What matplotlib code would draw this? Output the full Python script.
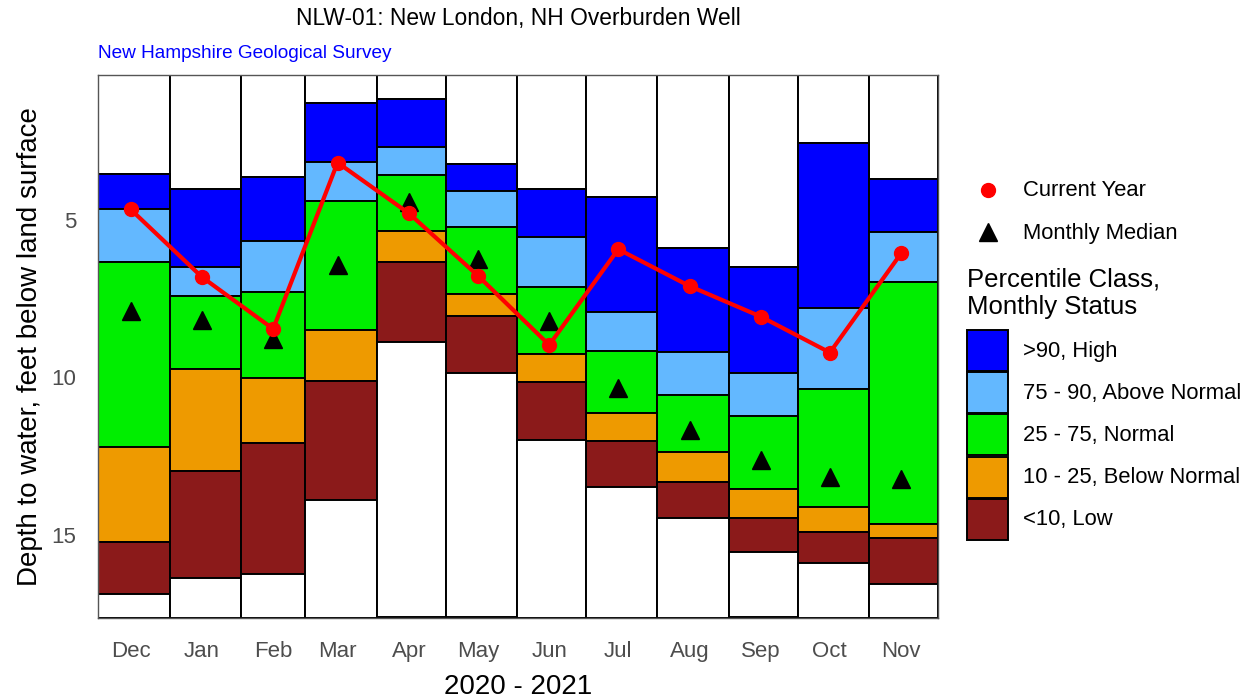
import matplotlib
matplotlib.use("Agg")
import matplotlib.pyplot as plt
import numpy as np

plt.rcParams['font.family'] = ['Liberation Sans', 'DejaVu Sans']

# month layout (water year Dec 2020 - Nov 2021)
months = ['Dec', 'Jan', 'Feb', 'Mar', 'Apr', 'May', 'Jun', 'Jul', 'Aug', 'Sep', 'Oct', 'Nov']
days = [31, 31, 28, 31, 30, 31, 30, 31, 31, 30, 31, 30]

# depth to water (ft below land surface) for the percentile class boundaries
shallowest = [3.55, 4.03, 3.63, 1.30, 1.17, 3.21, 4.02, 4.26, 5.88, 6.50, 2.57, 3.70]
p90 = [4.65, 6.50, 5.67, 3.17, 2.69, 4.08, 5.53, 7.91, 9.18, 9.85, 7.80, 5.37]
p75 = [6.34, 7.43, 7.29, 4.39, 3.57, 5.21, 7.12, 9.17, 10.56, 11.22, 10.37, 6.98]
p25 = [12.22, 9.73, 10.03, 8.51, 5.35, 7.35, 9.25, 11.14, 12.37, 13.53, 14.12, 14.66]
p10 = [15.23, 12.97, 12.08, 10.11, 6.32, 8.04, 10.15, 12.02, 13.31, 14.47, 14.90, 15.09]
deepest = [16.87, 16.37, 16.25, 13.89, 8.88, 9.85, 11.98, 13.47, 14.47, 15.53, 15.90, 16.57]

current_year = [4.66, 6.81, 8.46, 3.18, 4.79, 6.77, 8.97, 5.93, 7.10, 8.07, 9.21, 6.06]
monthly_median = [7.89, 8.18, 8.79, 6.44, 4.43, 6.24, 8.21, 10.34, 11.67, 12.63, 13.17, 13.23]

class_labels = ['>90, High', '75 - 90, Above Normal', '25 - 75, Normal',
                '10 - 25, Below Normal', '<10, Low']
class_colors = ['#0000FF', '#63B8FF', '#00EE00', '#EE9A00', '#8B1A1A']

Y_TOP, Y_BOTTOM = 0.40, 17.62

fig = plt.figure(figsize=(12.51, 7.0), dpi=100)
ax = fig.add_axes([98.3 / 1251, 1 - 617.5 / 700, (938 - 98.3) / 1251, (617.5 - 75) / 700])

starts = np.concatenate([[0], np.cumsum(days)[:-1]])
mid = starts + 14

# stacked boxes: white above, 5 classes, white below
bounds = [shallowest, p90, p75, p25, p10, deepest]
edge = dict(edgecolor='black', linewidth=1.4, align='edge')
top_arr = np.array(shallowest)
ax.bar(starts, top_arr - Y_TOP, width=days, bottom=Y_TOP, color='white', **edge)
for i, col in enumerate(class_colors):
    lo = np.array(bounds[i])
    hi = np.array(bounds[i + 1])
    ax.bar(starts, hi - lo, width=days, bottom=lo, color=col, **edge)
bot_arr = np.array(deepest)
ax.bar(starts, Y_BOTTOM - bot_arr, width=days, bottom=bot_arr, color='white', **edge)

ax.plot(mid, monthly_median, linestyle='none', marker='^', color='black', markersize=13, zorder=4)
ax.plot(mid, current_year, color='#FF0000', linewidth=3, marker='o', markersize=10, zorder=5)

ax.set_xlim(0, sum(days))
ax.set_ylim(Y_BOTTOM, Y_TOP)
ax.set_xticks(mid)
ax.set_xticklabels(months)
ax.set_yticks([5, 10, 15])
ax.tick_params(axis='both', length=0, labelsize=16, labelcolor='#4D4D4D')
ax.tick_params(axis='x', pad=17)
ax.tick_params(axis='y', pad=16)
for s in ax.spines.values():
    s.set_color('#555555')
    s.set_linewidth(1.0)

ax.set_xlabel('2020 - 2021', fontsize=20, labelpad=8.5)
ax.set_ylabel('Depth to water, feet below land surface', fontsize=20, labelpad=6)

fig.text(518 / 1251, 1 - 18.5 / 700, 'NLW-01: New London, NH Overburden Well',
         ha='center', va='center', fontsize=16.4)
fig.text(98 / 1251, 1 - 53 / 700, 'New Hampshire Geological Survey',
         ha='left', va='center', fontsize=13.7, color='#0000FF')

# legend drawn in pixel coordinates
lg = fig.add_axes([0, 0, 1, 1], zorder=-1)
lg.set_xlim(0, 1251)
lg.set_ylim(700, 0)
lg.axis('off')
lg.plot([988], [190], marker='o', color='#FF0000', markersize=10)
lg.text(1023, 190, 'Current Year', va='center', fontsize=15.8)
lg.plot([988], [232], marker='^', color='black', markersize=13)
lg.text(1023, 233, 'Monthly Median', va='center', fontsize=15.8)
lg.text(967, 293, 'Percentile Class,\nMonthly Status', va='center', fontsize=18.5, linespacing=1.2)
for i, (lab, col) in enumerate(zip(class_labels, class_colors)):
    y0 = 330 + i * 42.2
    lg.add_patch(plt.Rectangle((967, y0), 41, 41, facecolor=col, edgecolor='black', linewidth=1.4))
    lg.text(1023, y0 + 21, lab, va='center', fontsize=15.8)

fig.savefig('out.png', dpi=100)
